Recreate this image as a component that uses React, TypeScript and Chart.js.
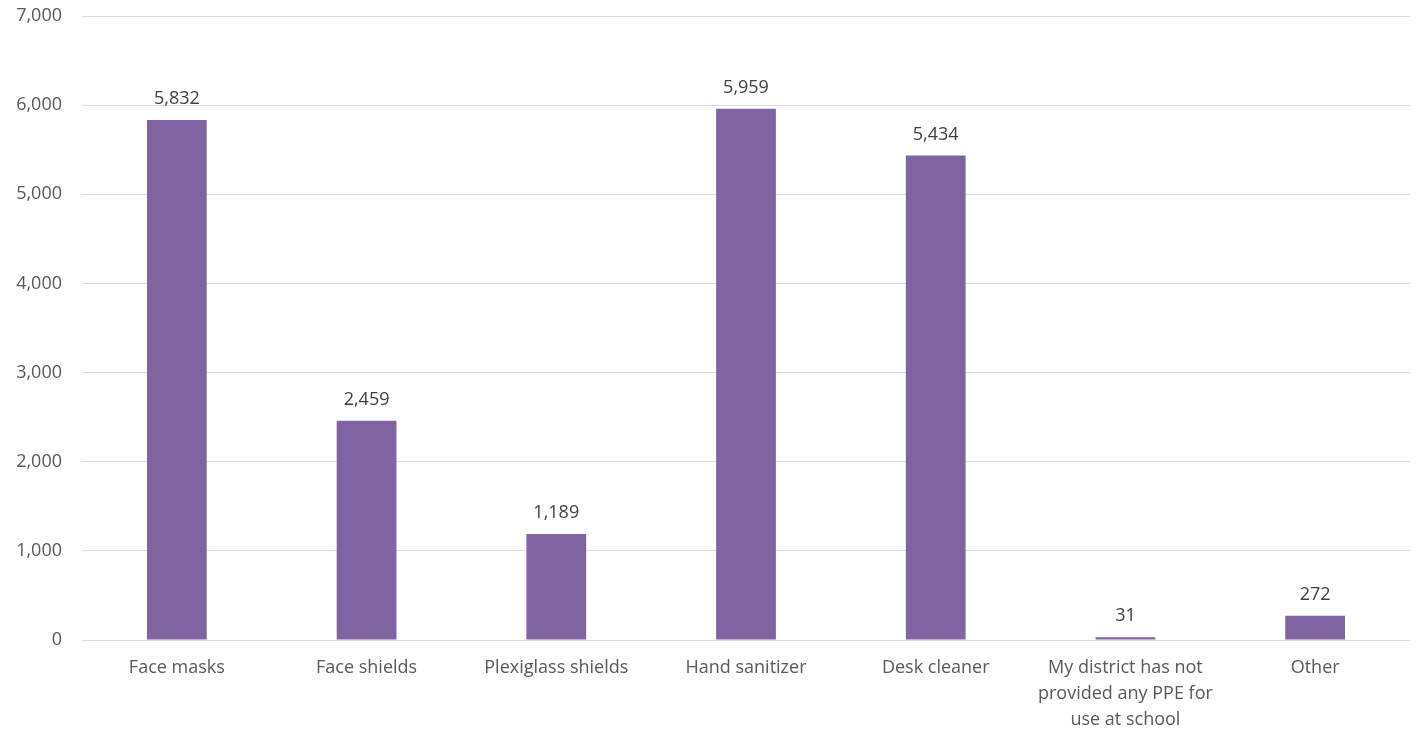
import React, { useEffect, useRef } from "react";
import { Chart, registerables } from "chart.js";

Chart.register(...registerables);

const categories: (string | string[])[] = [
  "Face masks",
  "Face shields",
  "Plexiglass shields",
  "Hand sanitizer",
  "Desk cleaner",
  ["My district has not", "provided any PPE for", "use at school"],
  "Other",
];
const values: number[] = [5832, 2459, 1189, 5959, 5434, 31, 272];
const yTicks: number[] = [0, 1000, 2000, 3000, 4000, 5000, 6000, 7000];

const FONT = "'Open Sans', Lato, sans-serif";
const TEXT = "#595959";

const dataLabels = {
  id: "dataLabels",
  afterDatasetsDraw(chart: any) {
    const ctx = chart.ctx;
    const meta = chart.getDatasetMeta(0);
    ctx.save();
    ctx.font = `18px ${FONT}`;
    ctx.fillStyle = "#404040";
    ctx.textAlign = "center";
    ctx.textBaseline = "middle";
    meta.data.forEach((bar: any, i: number) => {
      ctx.fillText(values[i].toLocaleString("en-US"), bar.x, bar.y - 21);
    });
    ctx.restore();
  },
};

export default function App() {
  const ref = useRef<HTMLCanvasElement>(null);
  useEffect(() => {
    if (!ref.current) return;
    const chart = new Chart(ref.current, {
      type: "bar",
      data: {
        labels: categories,
        datasets: [
          {
            data: values,
            backgroundColor: "#8064A2",
            categoryPercentage: 1,
            barPercentage: 0.315,
          },
        ],
      },
      options: {
        animation: false,
        responsive: false,
        maintainAspectRatio: false,
        layout: { padding: { top: 16, right: 9, left: 0, bottom: 0 } },
        plugins: { legend: { display: false }, tooltip: { enabled: false } },
        scales: {
          x: {
            grid: { display: false },
            border: { display: false },
            ticks: {
              color: TEXT,
              font: { family: FONT, size: 18, lineHeight: 1.44 },
              padding: 7,
              maxRotation: 0,
              autoSkip: false,
            },
            afterFit: (s: any) => {
              s.height = 93;
              s.paddingLeft = 0;
              s.paddingRight = 0;
            },
          },
          y: {
            min: 0,
            max: 7000,
            afterBuildTicks: (s: any) => {
              s.ticks = yTicks.map((v) => ({ value: v }));
            },
            grid: { color: "#d9d9d9", lineWidth: 1, drawTicks: false },
            border: { display: false },
            ticks: {
              color: TEXT,
              font: { family: FONT, size: 18 },
              padding: 20,
              callback: (v: any) => Number(v).toLocaleString("en-US"),
            },
            afterFit: (s: any) => {
              s.width = 82;
              s.paddingTop = 0;
              s.paddingBottom = 0;
            },
          },
        },
      },
      plugins: [dataLabels],
    });
    return () => chart.destroy();
  }, []);
  return (
    <div style={{ position: "absolute", left: 0, top: 0, width: 1419, height: 733, background: "#fff" }}>
      <canvas ref={ref} width={1419} height={733} style={{ display: "block" }} />
    </div>
  );
}
